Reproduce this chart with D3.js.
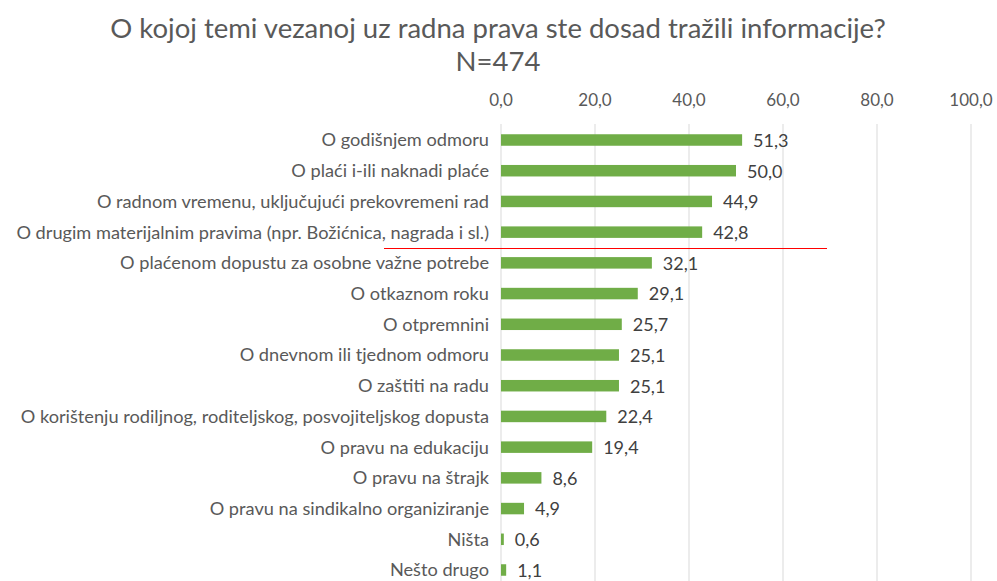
<!DOCTYPE html>
<html lang="hr">
<head>
<meta charset="utf-8" />
<title>Radna prava</title>
<script src="https://cdn.jsdelivr.net/npm/d3@7"></script>
<style>
  body { margin: 0; background: #fff; }
  text { font-family: Lato, "Open Sans", sans-serif; }
</style>
</head>
<body>
<div id="chart"></div>
<script>
  let categories = [
    'O godišnjem odmoru',
    'O plaći i-ili naknadi plaće',
    'O radnom vremenu, uključujući prekovremeni rad',
    'O drugim materijalnim pravima (npr. Božićnica, nagrada i sl.)',
    'O plaćenom dopustu za osobne važne potrebe',
    'O otkaznom roku',
    'O otpremnini',
    'O dnevnom ili tjednom odmoru',
    'O zaštiti na radu',
    'O korištenju rodiljnog, roditeljskog, posvojiteljskog dopusta',
    'O pravu na edukaciju',
    'O pravu na štrajk',
    'O pravu na sindikalno organiziranje',
    'Ništa',
    'Nešto drugo'
  ];
  let values = [51.3, 50.0, 44.9, 42.8, 32.1, 29.1, 25.7, 25.1, 25.1, 22.4, 19.4, 8.6, 4.9, 0.6, 1.1];
  let ticks = [0, 20, 40, 60, 80, 100];

  let width = 997, height = 581;
  let fmt = d => d.toFixed(1).replace('.', ',');

  let svg = d3.select('#chart').append('svg')
    .attr('width', width)
    .attr('height', height);

  let x = d3.scaleLinear().domain([0, 100]).range([501, 971]);
  let y = d3.scalePoint().domain(categories).range([140, 570]);

  // title
  svg.append('text')
    .attr('x', 498).attr('y', 38)
    .attr('text-anchor', 'middle')
    .attr('font-size', 27.5)
    .attr('fill', '#595959')
    .text('O kojoj temi vezanoj uz radna prava ste dosad tražili informacije?');
  svg.append('text')
    .attr('x', 498).attr('y', 71)
    .attr('text-anchor', 'middle')
    .attr('font-size', 27.5)
    .attr('fill', '#595959')
    .text('N=474');

  // gridlines
  svg.append('g').selectAll('line')
    .data(ticks)
    .join('line')
    .attr('x1', d => x(d)).attr('x2', d => x(d))
    .attr('y1', 124).attr('y2', height)
    .attr('stroke', '#d9d9d9')
    .attr('stroke-width', 1);

  // top axis labels
  svg.append('g').selectAll('text')
    .data(ticks)
    .join('text')
    .attr('x', d => x(d)).attr('y', 106)
    .attr('text-anchor', 'middle')
    .attr('font-size', 17)
    .attr('fill', '#595959')
    .text(d => fmt(d));

  // bars
  let bh = 11.5;
  svg.append('g').selectAll('rect')
    .data(values)
    .join('rect')
    .attr('x', x(0))
    .attr('y', (d, i) => y(categories[i]) - bh / 2)
    .attr('width', d => x(d) - x(0))
    .attr('height', bh)
    .attr('fill', '#70ad47');

  // category labels
  svg.append('g').selectAll('text')
    .data(categories)
    .join('text')
    .attr('x', 489)
    .attr('y', d => y(d))
    .attr('dy', '0.35em')
    .attr('text-anchor', 'end')
    .attr('font-size', 18.2)
    .attr('fill', '#595959')
    .text(d => d);

  // value labels
  svg.append('g').selectAll('text')
    .data(values)
    .join('text')
    .attr('x', d => x(d) + 11)
    .attr('y', (d, i) => y(categories[i]))
    .attr('dy', '0.38em')
    .attr('font-size', 18)
    .attr('fill', '#404040')
    .text(d => fmt(d));

  // red separator line between 4th and 5th item
  let sepY = Math.round((y(categories[3]) + y(categories[4])) / 2) + 0.5;
  svg.append('line')
    .attr('x1', 384).attr('x2', 827)
    .attr('y1', sepY).attr('y2', sepY)
    .attr('stroke', '#ff0000')
    .attr('stroke-width', 1);
</script>
</body>
</html>
